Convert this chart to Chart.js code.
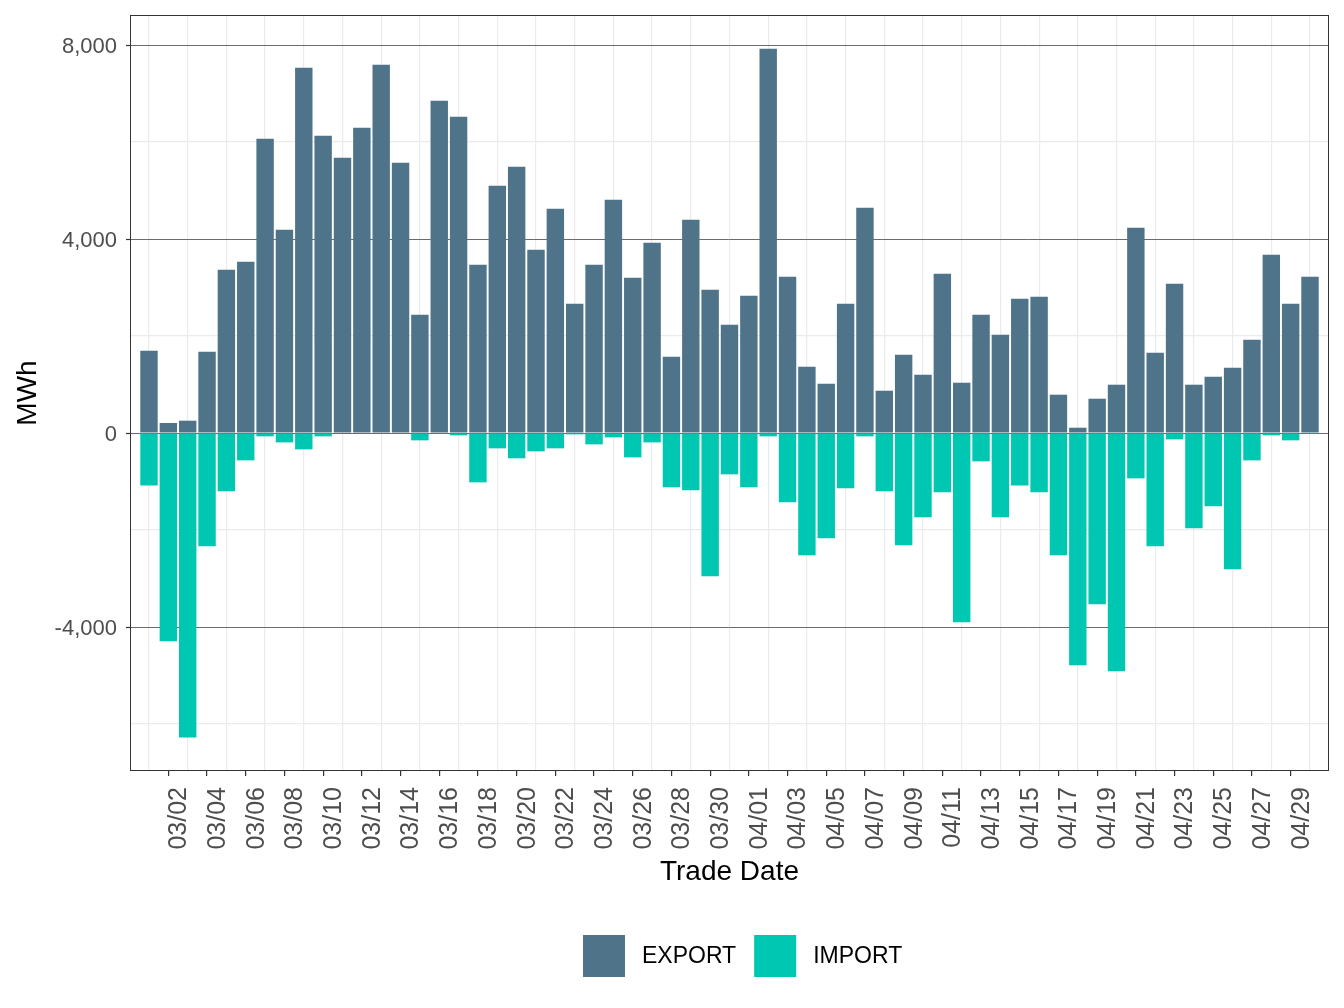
<!DOCTYPE html>
<html><head><meta charset="utf-8">
<script src="https://cdn.jsdelivr.net/npm/chart.js@4.4.1/dist/chart.umd.min.js"></script>
<style>html,body{margin:0;padding:0;background:#fff;}</style>
</head><body>
<canvas id="c" width="1344" height="1008"></canvas>
<script>
const dates = ['03/01','03/02','03/03','03/04','03/05','03/06','03/07','03/08','03/09','03/10',
'03/11','03/12','03/13','03/14','03/15','03/16','03/17','03/18','03/19','03/20',
'03/21','03/22','03/23','03/24','03/25','03/26','03/27','03/28','03/29','03/30','03/31',
'04/01','04/02','04/03','04/04','04/05','04/06','04/07','04/08','04/09','04/10',
'04/11','04/12','04/13','04/14','04/15','04/16','04/17','04/18','04/19','04/20',
'04/21','04/22','04/23','04/24','04/25','04/26','04/27','04/28','04/29','04/30'];

const exportMWh = [1697,206,254,1676,3367,3532,6068,4192,7532,6130,
5677,6295,7594,5574,2439,6852,6522,3470,5099,5491,
3780,4625,2666,3470,4810,3202,3924,1573,4398,2955,2233,
2831,7924,3223,1367,1016,2666,4646,872,1615,1202,
3285,1037,2439,2027,2769,2810,790,109,707,996,
4233,1656,3078,996,1161,1347,1924,3677,2666,3223];

const importMWh = [-1080,-4296,-6276,-2337,-1203,-564,-69,-193,-337,-69,
-10,0,0,-10,-151,0,-48,-1017,-316,-522,
-378,-316,-28,-234,-90,-502,-193,-1120,-1182,-2955,-852,
-1120,-69,-1430,-2522,-2172,-1141,-69,-1203,-2316,-1739,
-1223,-3904,-584,-1739,-1080,-1223,-2522,-4790,-3533,-4914,
-935,-2337,-131,-1966,-1512,-2811,-564,-48,-151,-5];

const seriesNames = ['EXPORT','IMPORT'];
const seriesColors = ['#4f7489','#00c7b2'];
const yTickValues = [-6000,-4000,-2000,0,2000,4000,6000,8000];
const yLabelledStep = 4000;

const FONT = "'Liberation Sans', Arial, Helvetica, sans-serif";
Chart.defaults.font.family = FONT;

const panelBorder = {
  id: 'panelBorder',
  afterDraw(chart) {
    const {ctx, chartArea: a} = chart;
    ctx.save();
    ctx.strokeStyle = '#333333';
    ctx.lineWidth = 1;
    ctx.strokeRect(Math.round(a.left) - 0.5, Math.round(a.top) + 0.5, Math.round(a.right - a.left) + 1, Math.round(a.bottom - a.top) - 1);
    ctx.restore();
  }
};

// ggplot-style legend below the panel: key squares with labels
const bottomLegend = {
  id: 'bottomLegend',
  afterDraw(chart) {
    const {ctx} = chart;
    const key = 42, gapText = 17, gapItem = 18, top = 935;
    ctx.save();
    ctx.font = '23px ' + FONT;
    ctx.textBaseline = 'middle';
    ctx.textAlign = 'left';
    const items = chart.data.datasets.map(ds => ({label: ds.label, color: ds.backgroundColor, w: ctx.measureText(ds.label).width}));
    let total = 0;
    items.forEach((it, i) => { total += key + gapText + it.w + (i < items.length - 1 ? gapItem : 0); });
    const a = chart.chartArea;
    let x = Math.round((a.left + a.right) / 2 + 13 - total / 2);
    items.forEach(it => {
      ctx.fillStyle = it.color;
      ctx.fillRect(x, top, key, key);
      ctx.fillStyle = '#000';
      ctx.fillText(it.label, x + key + gapText, top + key / 2 + 1);
      x += key + gapText + it.w + gapItem;
    });
    ctx.restore();
  }
};

const TRANSPARENT = 'rgba(0,0,0,0)';

new Chart(document.getElementById('c'), {
  type: 'bar',
  data: {
    datasets: [
      {label: seriesNames[0], data: dates.map((d, i) => ({x: i, y: exportMWh[i]})),
       backgroundColor: seriesColors[0], borderWidth: 0, stack: 's', barPercentage: 0.9, categoryPercentage: 1.0},
      {label: seriesNames[1], data: dates.map((d, i) => ({x: i, y: importMWh[i]})),
       backgroundColor: seriesColors[1], borderWidth: 0, stack: 's', barPercentage: 0.9, categoryPercentage: 1.0}
    ]
  },
  options: {
    responsive: false,
    animation: false,
    devicePixelRatio: 1,
    layout: {padding: {top: 15, right: 16, bottom: 91, left: 0}},
    plugins: {
      legend: {display: false},
      tooltip: {enabled: false}
    },
    scales: {
      x: {
        type: 'linear',
        stacked: true,
        min: -0.93,
        max: 60.93,
        offset: false,
        afterBuildTicks: s => { s.ticks = dates.map((d, i) => ({value: i})); },
        afterFit: s => { s.height = 146; s.paddingLeft = 0; s.paddingRight = 0; },
        grid: {
          offset: false,
          color: c => (c.tick && c.tick.value % 2 === 0) ? '#ebebeb' : TRANSPARENT,
          lineWidth: 1.2,
          drawTicks: true,
          tickLength: 5,
          tickColor: c => (c.tick && c.tick.value % 2 === 1) ? '#333333' : TRANSPARENT,
          tickWidth: 1.2
        },
        border: {display: false},
        ticks: {
          autoSkip: false, maxRotation: 90, minRotation: 90, padding: 11, labelOffset: 11,
          color: '#4d4d4d', font: {size: 25, family: FONT},
          callback: v => (v % 2 === 1) ? dates[v] : ''
        },
        title: {display: true, text: 'Trade Date', color: '#000', font: {size: 28, family: FONT}, padding: {top: 0, bottom: 28}}
      },
      y: {
        stacked: true,
        min: -6969,
        max: 8619,
        afterBuildTicks: s => { s.ticks = yTickValues.map(v => ({value: v})); },
        afterFit: s => { s.width = 131; s.paddingTop = 0; s.paddingBottom = 0; },
        grid: {
          color: c => (c.tick && c.tick.value % yLabelledStep === 0) ? '#6b6b6b' : '#ebebeb',
          lineWidth: c => (c.tick && c.tick.value % yLabelledStep === 0) ? 1 : 1.2,
          drawTicks: true,
          tickLength: 5,
          tickColor: c => (c.tick && c.tick.value % yLabelledStep === 0) ? '#333333' : TRANSPARENT,
          tickWidth: 1.2
        },
        border: {display: false},
        ticks: {
          padding: 9, labelOffset: 2, color: '#4d4d4d', font: {size: 22, family: FONT},
          callback: v => (v % yLabelledStep === 0) ? v.toLocaleString('en-US') : ''
        },
        title: {display: true, text: 'MWh', color: '#000', font: {size: 28, family: FONT}, padding: {top: 11, bottom: 0}}
      }
    }
  },
  plugins: [panelBorder, bottomLegend]
});
</script>
</body></html>
